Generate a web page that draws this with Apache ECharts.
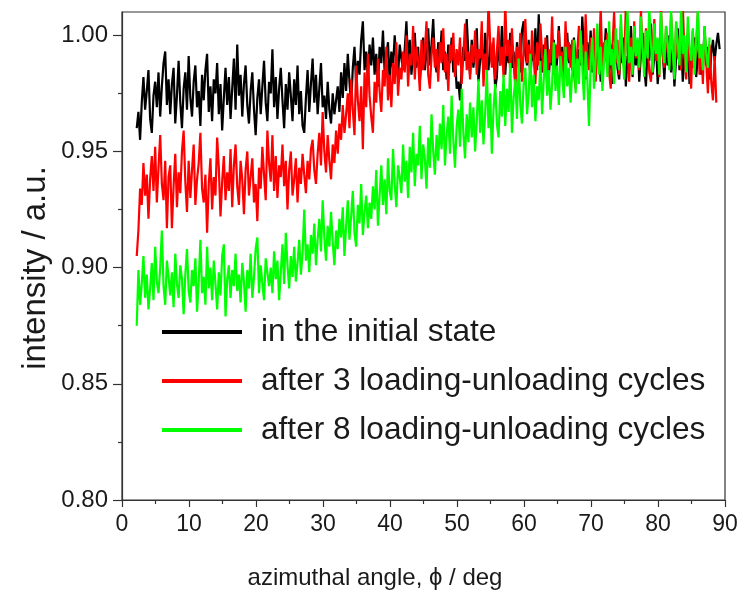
<!DOCTYPE html>
<html>
<head>
<meta charset="utf-8">
<script src="https://cdn.jsdelivr.net/npm/echarts@6/dist/echarts.min.js"></script>
<style>
  html, body { margin: 0; padding: 0; background: #fff; }
  #chart { width: 745px; height: 594px; }
</style>
</head>
<body>
<div id="chart"></div>
<script>
// Azimuthal intensity profiles, sampled every 0.25 deg starting at 2.2 deg
const angleStart = 2.2;
const angleStep = 0.25;

const seriesNames = [
  'in the initial state',
  'after 3 loading-unloading cycles',
  'after 8 loading-unloading cycles'
];

const xTicks = [0, 10, 20, 30, 40, 50, 60, 70, 80, 90];
const yTicks = [0.80, 0.85, 0.90, 0.95, 1.00];
const yMinorTicks = [0.825, 0.875, 0.925, 0.975];

const initialState = [
  0.960, 0.967, 0.955, 0.971, 0.982, 0.968, 0.976, 0.985, 0.964, 0.958, 0.974, 0.980, 0.969, 0.984, 0.965, 0.978, 0.988, 0.993, 0.970, 0.981,
  0.966, 0.979, 0.986, 0.962, 0.974, 0.989, 0.971, 0.960, 0.977, 0.984, 0.968, 0.991, 0.973, 0.965, 0.980, 0.987, 0.969, 0.976, 0.961, 0.983,
  0.972, 0.985, 0.992, 0.967, 0.978, 0.963, 0.981, 0.975, 0.988, 0.966, 0.979, 0.959, 0.973, 0.986, 0.970, 0.982, 0.964, 0.977, 0.990, 0.968,
  0.996, 0.974, 0.983, 0.965, 0.979, 0.987, 0.970, 0.962, 0.976, 0.984, 0.968, 0.957, 0.973, 0.981, 0.966, 0.978, 0.989, 0.971, 0.963, 0.980,
  0.975, 0.994, 0.969, 0.982, 0.964, 0.977, 0.986, 0.972, 0.960, 0.979, 0.968, 0.984, 0.974, 0.963, 0.981, 0.970, 0.987, 0.966, 0.976, 0.961,
  0.958, 0.973, 0.985, 0.967, 0.979, 0.990, 0.971, 0.983, 0.966, 0.977, 0.988, 0.969, 0.974, 0.964, 0.980, 0.968, 0.962, 0.975, 0.966, 0.972,
  0.978, 0.967, 0.984, 0.973, 0.988, 0.976, 0.992, 0.980, 0.970, 0.986, 0.995, 0.979, 0.989, 0.983, 0.998, 1.006, 0.985, 0.993, 0.981, 0.996,
  0.987, 0.999, 0.983, 0.992, 0.978, 0.995, 0.988, 1.002, 0.984, 0.991, 0.997, 0.980, 0.993, 0.986, 1.000, 0.989, 0.982, 0.996, 0.990, 0.985,
  0.994, 1.006, 0.988, 0.998, 0.983, 0.992, 1.001, 0.986, 0.995, 0.980, 0.990, 0.999, 0.985, 0.993, 1.003, 0.987, 0.996, 1.007, 0.989, 0.984,
  0.997, 0.990, 1.002, 0.985, 0.993, 0.981, 0.996, 0.988, 0.999, 0.984, 0.991, 0.977, 0.980, 0.972, 0.986, 0.995, 0.989, 1.007, 0.992, 0.983,
  0.998, 0.986, 0.994, 1.003, 0.980, 0.989, 0.996, 0.984, 1.001, 0.991, 0.985, 0.997, 0.988, 0.993, 0.977, 0.982, 0.999, 0.987, 1.004, 0.990,
  0.983, 0.995, 0.988, 1.001, 0.986, 0.993, 0.980, 0.997, 0.990, 0.984, 1.002, 1.006, 0.992, 0.987, 0.998, 0.981, 0.994, 0.989, 1.003, 0.985,
  1.009, 0.991, 0.984, 0.996, 0.988, 1.000, 0.982, 0.993, 0.987, 0.998, 0.979, 0.990, 1.004, 0.986, 0.995, 0.983, 0.992, 1.001, 0.988, 0.996,
  0.985, 0.999, 0.990, 0.983, 0.994, 0.987, 1.008, 0.992, 0.981, 0.997, 0.989, 1.002, 0.984, 0.993, 0.986, 0.999, 0.991, 0.980, 0.995, 0.988,
  1.003, 0.990, 0.984, 0.996, 0.979, 0.992, 1.000, 0.986, 0.981, 0.994, 0.988, 0.999, 0.978, 0.991, 0.985, 1.004, 0.982, 0.993, 0.987, 0.998,
  0.980, 0.992, 1.001, 0.986, 0.978, 0.995, 0.989, 1.005, 0.983, 0.991, 0.997, 0.979, 0.988, 1.002, 0.993, 0.981, 0.996, 0.987, 1.000, 0.984,
  0.994, 0.978, 0.990, 1.003, 0.985, 0.997, 0.980, 0.992, 0.988, 1.001, 0.979, 0.994, 0.986, 0.999, 0.982, 0.991, 0.996, 0.983, 0.989, 1.002,
  0.987, 0.995, 0.981, 0.992, 0.998, 0.989, 0.996, 1.001, 0.994
];

const after3Cycles = [
  0.905, 0.916, 0.934, 0.927, 0.945, 0.931, 0.940, 0.921, 0.938, 0.948, 0.933, 0.952, 0.928, 0.943, 0.957, 0.936, 0.929, 0.946, 0.917, 0.939,
  0.944, 0.917, 0.935, 0.949, 0.926, 0.941, 0.932, 0.950, 0.959, 0.937, 0.924, 0.946, 0.930, 0.942, 0.953, 0.927, 0.938, 0.945, 0.958, 0.934,
  0.928, 0.940, 0.915, 0.936, 0.947, 0.925, 0.939, 0.931, 0.956, 0.943, 0.922, 0.937, 0.948, 0.929, 0.941, 0.933, 0.951, 0.926, 0.944, 0.953,
  0.935, 0.927, 0.946, 0.938, 0.923, 0.942, 0.950, 0.931, 0.939, 0.947, 0.928, 0.936, 0.920, 0.943, 0.934, 0.952, 0.940, 0.929, 0.959, 0.945,
  0.937, 0.957, 0.933, 0.948, 0.930, 0.944, 0.939, 0.953, 0.935, 0.946, 0.925, 0.942, 0.950, 0.931, 0.938, 0.947, 0.928, 0.943, 0.936, 0.949,
  0.940, 0.932, 0.946, 0.938, 0.951, 0.955, 0.942, 0.936, 0.949, 0.958, 0.944, 0.967, 0.950, 0.941, 0.957, 0.946, 0.938, 0.953, 0.945, 0.959,
  0.949, 0.962, 0.955, 0.970, 0.958, 0.966, 0.975, 0.960, 0.981, 0.968, 0.957, 0.987, 0.972, 0.963, 0.978, 0.951, 0.984, 0.969, 0.992, 0.974,
  0.965, 0.958, 0.980, 0.971, 0.990, 0.976, 0.967, 0.985, 0.978, 0.995, 0.972, 0.983, 0.969, 0.988, 0.979, 0.997, 0.974, 0.986, 0.981, 0.993,
  0.984, 1.000, 0.978, 0.992, 0.987, 1.004, 0.981, 0.995, 0.989, 0.976, 0.998, 0.985, 0.993, 1.006, 0.983, 0.977, 0.991, 0.999, 0.986, 0.994,
  0.980, 0.997, 0.988, 1.003, 0.984, 0.992, 0.976, 0.996, 0.989, 1.001, 0.982, 0.994, 0.987, 0.999, 0.979, 0.991, 1.005, 0.985, 0.993, 0.981,
  0.996, 0.988, 1.002, 0.983, 0.994, 0.990, 1.006, 0.978, 0.992, 0.985, 1.015, 0.997, 0.986, 0.999, 0.981, 0.993, 1.004, 0.987, 0.995, 0.982,
  1.014, 0.991, 0.998, 0.984, 1.003, 0.989, 0.977, 0.995, 0.986, 1.001, 0.980, 0.993, 1.007, 0.988, 0.996, 0.983, 1.002, 0.990, 0.979, 0.997,
  0.987, 1.005, 0.992, 0.984, 0.999, 0.979, 0.994, 0.988, 1.008, 0.983, 0.996, 0.990, 1.002, 0.985, 0.993, 0.981, 1.006, 0.989, 0.997, 0.986,
  0.998, 0.984, 0.977, 0.993, 1.004, 0.988, 0.996, 0.982, 1.009, 0.990, 0.985, 0.999, 0.987, 1.003, 0.980, 0.994, 0.991, 1.012, 0.986, 0.997,
  0.989, 1.001, 0.984, 0.977, 0.995, 1.010, 0.988, 0.998, 0.983, 1.004, 0.991, 0.986, 1.013, 0.993, 0.980, 0.999, 0.987, 1.006, 0.990, 0.996,
  0.985, 1.011, 0.992, 0.988, 1.003, 0.996, 0.984, 0.980, 0.994, 1.007, 0.989, 0.998, 0.982, 1.012, 0.991, 0.986, 1.004, 0.993, 0.987, 1.009,
  0.995, 0.983, 1.005, 0.990, 0.999, 0.985, 1.013, 0.992, 0.981, 0.997, 0.988, 0.977, 1.002, 0.986, 0.994, 1.010, 0.983, 0.996, 0.979, 1.004,
  0.988, 0.975, 0.996, 0.980, 0.972, 0.991, 0.971
];

const after8Cycles = [
  0.875, 0.899, 0.884, 0.893, 0.905, 0.887, 0.897, 0.882, 0.891, 0.902, 0.886, 0.909, 0.894, 0.889, 0.900, 0.916, 0.892, 0.884, 0.903, 0.896,
  0.888, 0.898, 0.883, 0.906, 0.893, 0.887, 0.901, 0.895, 0.880, 0.897, 0.908, 0.890, 0.885, 0.899, 0.892, 0.904, 0.881, 0.894, 0.912, 0.889,
  0.896, 0.884, 0.909, 0.891, 0.900, 0.886, 0.903, 0.893, 0.882, 0.898, 0.888, 0.905, 0.910, 0.879, 0.895, 0.901, 0.887, 0.899, 0.892, 0.906,
  0.890, 0.897, 0.885, 0.902, 0.894, 0.881, 0.899, 0.891, 0.906, 0.887, 0.896, 0.908, 0.913, 0.889, 0.901, 0.893, 0.886, 0.904, 0.898, 0.892,
  0.900, 0.889, 0.907, 0.895, 0.903, 0.886, 0.898, 0.910, 0.893, 0.915, 0.901, 0.891, 0.905, 0.896, 0.909, 0.894, 0.902, 0.912, 0.897, 0.906,
  0.925, 0.903, 0.910, 0.898, 0.914, 0.906, 0.919, 0.901, 0.912, 0.921, 0.907, 0.929, 0.913, 0.903, 0.918, 0.909, 0.924, 0.911, 0.901, 0.916,
  0.908, 0.921, 0.913, 0.926, 0.905, 0.918, 0.929, 0.912, 0.922, 0.933, 0.915, 0.909, 0.927, 0.919, 0.936, 0.914, 0.924, 0.931, 0.917, 0.928,
  0.921, 0.935, 0.925, 0.942, 0.918, 0.931, 0.944, 0.927, 0.938, 0.923, 0.947, 0.933, 0.929, 0.951, 0.936, 0.926, 0.944, 0.939, 0.932, 0.953,
  0.937, 0.946, 0.930, 0.952, 0.941, 0.958, 0.935, 0.949, 0.944, 0.961, 0.938, 0.953, 0.947, 0.934, 0.956, 0.943, 0.966, 0.950, 0.940, 0.957,
  0.946, 0.962, 0.951, 0.970, 0.944, 0.957, 0.965, 0.949, 0.974, 0.955, 0.943, 0.961, 0.968, 0.952, 0.977, 0.958, 0.947, 0.966, 0.954, 0.971,
  0.956, 0.969, 0.950, 0.963, 0.981, 0.958, 0.972, 0.953, 0.966, 0.985, 0.960, 0.975, 0.949, 0.968, 0.979, 0.962, 0.956, 0.976, 0.965, 0.983,
  0.961, 0.977, 0.967, 0.988, 0.958, 0.973, 0.981, 0.964, 0.990, 0.970, 0.962, 0.979, 0.986, 0.966, 0.975, 0.992, 0.969, 0.983, 0.963, 0.978,
  0.972, 0.989, 0.966, 0.981, 0.994, 0.974, 0.985, 0.968, 0.979, 0.997, 0.976, 0.987, 0.970, 0.991, 0.982, 0.973, 0.995, 0.978, 0.986, 0.971,
  0.984, 0.998, 0.975, 0.990, 0.979, 1.002, 0.986, 0.972, 0.993, 0.981, 0.961, 0.988, 0.999, 0.977, 0.991, 1.005, 0.983, 0.995, 0.976, 0.989,
  0.998, 0.982, 1.006, 0.987, 0.994, 0.979, 1.003, 0.990, 0.985, 1.009, 0.993, 0.981, 0.997, 1.011, 0.988, 0.995, 0.983, 1.004, 0.991, 0.999,
  0.986, 1.008, 0.994, 0.982, 1.002, 0.990, 1.012, 0.996, 0.984, 1.005, 0.992, 0.999, 0.983, 1.010, 0.995, 0.988, 1.004, 0.997, 0.985, 1.011,
  0.993, 0.981, 1.006, 0.997, 0.987, 1.013, 0.992, 1.000, 0.984, 1.008, 0.995, 0.989, 1.003, 0.983, 0.998, 1.011, 0.990, 0.996, 0.985, 1.004,
  0.992, 0.986, 0.999
];

const seriesColors = ['#000000', '#ff0000', '#00ff00'];

// pair each intensity with its azimuthal angle on the sampling grid
function toPoints(values) {
  return values.map((v, i) => [+(angleStart + i * angleStep).toFixed(2), v]);
}

const FONT = '"Liberation Sans", Arial, sans-serif';
const INK = '#1a1a1a';

const chart = echarts.init(document.getElementById('chart'), null, { renderer: 'canvas' });

chart.setOption({
  animation: false,
  backgroundColor: '#ffffff',
  grid: {
    left: 122, right: 20, top: 12, bottom: 94,
    show: true, borderColor: '#333', borderWidth: 1.2,
    backgroundColor: 'transparent'
  },
  legend: {
    orient: 'vertical',
    left: 157, top: 311,
    itemWidth: 80, itemHeight: 4, itemGap: 17,
    icon: 'rect',
    selectedMode: false,
    textStyle: { fontFamily: FONT, fontSize: 31.6, color: INK, padding: [0, 0, 0, 14] },
    data: seriesNames
  },
  xAxis: {
    type: 'value', min: 0, max: 90, interval: 10,
    axisLine: { lineStyle: { color: '#333', width: 1.2 } },
    axisTick: { inside: false, length: 7, lineStyle: { color: '#333', width: 1.2 } },
    minorTick: { show: true, splitNumber: 2, length: 4, lineStyle: { color: '#333', width: 1.2 } },
    splitLine: { show: false },
    axisLabel: {
      fontFamily: FONT, fontSize: 23, color: INK, margin: 13,
      customValues: xTicks
    }
  },
  yAxis: [
    {
      type: 'value', min: 0.80, max: 1.01, interval: 0.05,
      axisLine: { show: true, lineStyle: { color: '#333', width: 1.2 } },
      axisTick: { show: true, inside: false, length: 9, lineStyle: { color: '#333', width: 1.2 }, customValues: yTicks },
      splitLine: { show: false },
      axisLabel: {
        fontFamily: FONT, fontSize: 24, color: INK, margin: 14,
        customValues: yTicks,
        formatter: v => v.toFixed(2)
      }
    },
    {
      type: 'value', min: 0.80, max: 1.01, position: 'left',
      axisLine: { show: false },
      axisTick: { show: true, inside: false, length: 4, lineStyle: { color: '#333', width: 1.2 }, customValues: yMinorTicks },
      axisLabel: { show: false },
      splitLine: { show: false }
    }
  ],
  graphic: [
    {
      type: 'text', x: 375, y: 578,
      style: {
        text: 'azimuthal angle, ϕ / deg', fill: INK, font: '24px ' + FONT,
        textAlign: 'center', textVerticalAlign: 'middle'
      }
    },
    {
      type: 'text', x: 36, y: 268, rotation: Math.PI / 2,
      style: {
        text: 'intensity / a.u.', fill: INK, font: '33px ' + FONT,
        textAlign: 'center', textVerticalAlign: 'middle'
      }
    }
  ],
  series: [initialState, after3Cycles, after8Cycles].map((vals, k) => ({
    name: seriesNames[k],
    type: 'line',
    data: toPoints(vals),
    showSymbol: false,
    symbol: 'none',
    clip: true,
    lineStyle: { color: seriesColors[k], width: 2.2 },
    itemStyle: { color: seriesColors[k] },
    emphasis: { disabled: true }
  }))
});
</script>
</body>
</html>
